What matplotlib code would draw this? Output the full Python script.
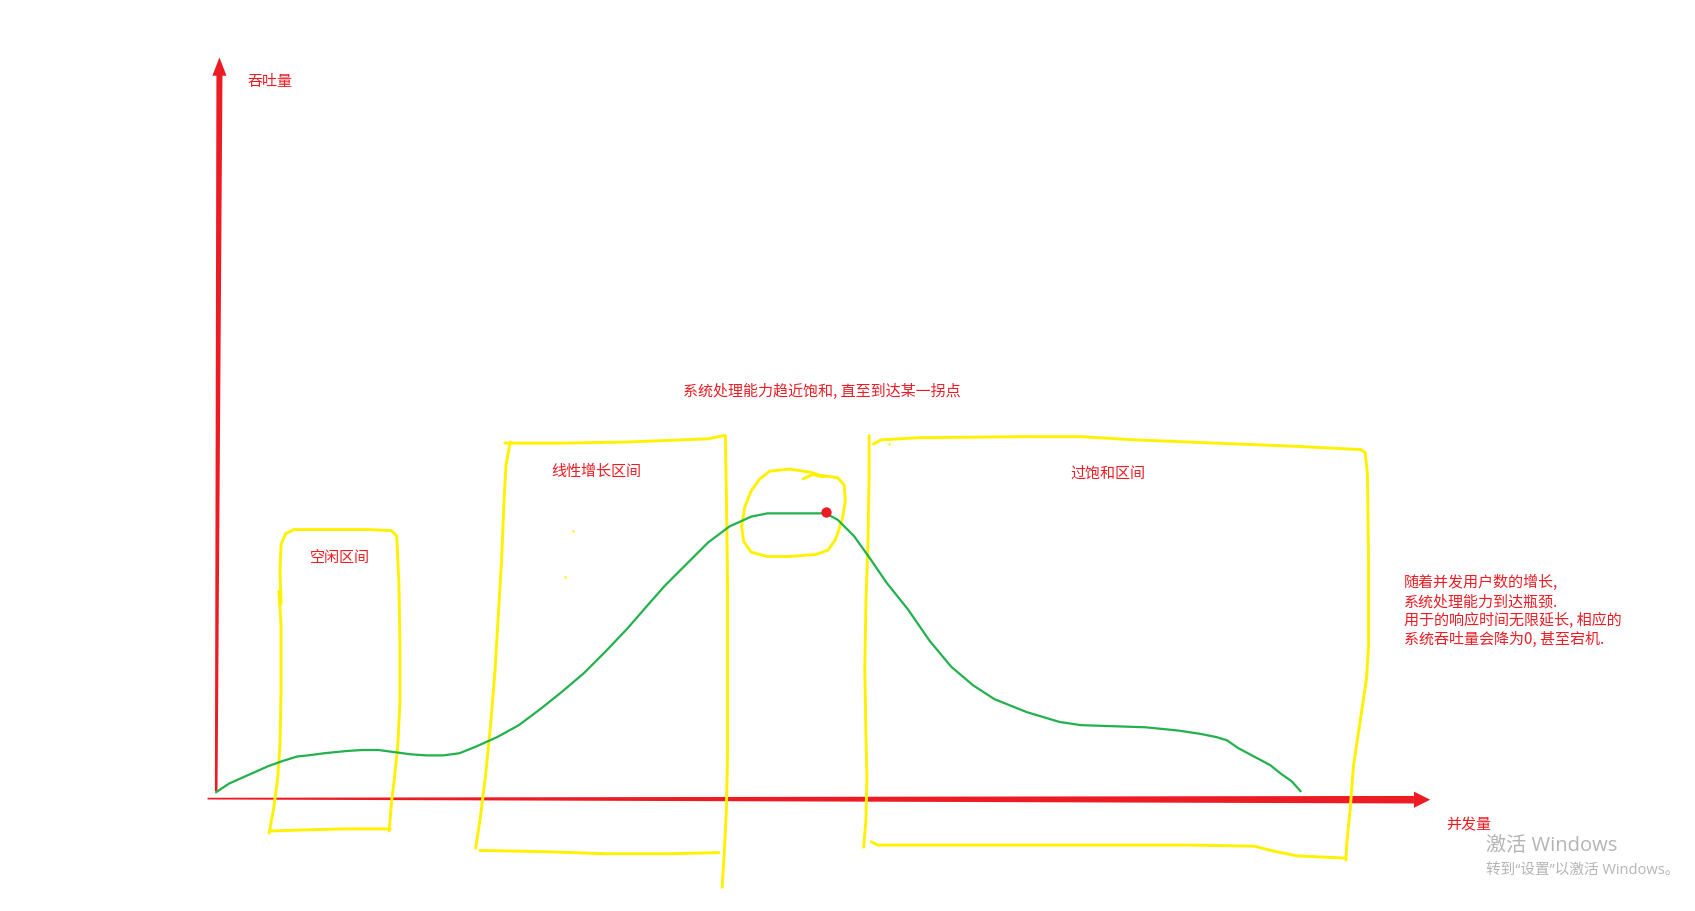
import matplotlib
matplotlib.use("Agg")
import matplotlib.pyplot as plt
import numpy as np

plt.rcParams['font.family'] = ['Noto Sans CJK SC', 'DejaVu Sans']

RED = "#ED1C24"
YEL = "#FFF200"
GRN = "#22B14C"
GRAY = "#B4B4B4"

# ---- data (sketch coordinates, reference image space 1568x844) ----
curve_x = [200, 212, 230, 248, 262, 275, 285, 300, 320, 335, 350, 365, 380, 395, 410, 425, 440,
           460, 480, 500, 520, 540, 560, 580, 600, 615, 635, 655, 675, 695, 710, 730, 750, 764,
           775, 790, 805, 820, 840, 860, 880, 900, 920, 950, 980, 1000, 1030, 1060, 1090, 1110,
           1125, 1135, 1145, 1160, 1175, 1185, 1195, 1203]
curve_y = [734, 726, 718, 710, 705, 701, 700, 698, 696, 695, 695, 697, 699, 700, 700, 698, 692,
           683, 672, 657, 641, 624, 604, 583, 560, 543, 523, 503, 488, 479, 476, 476, 476, 476,
           482, 497, 518, 540, 565, 594, 618, 635, 648, 660, 669, 672, 673, 674, 677, 680,
           683, 686, 693, 701, 709, 717, 724, 733]
peak_x, peak_y = [764], [475]

box1_a_x = [260, 259, 260, 264, 272, 300, 340, 362, 367, 369, 370, 370, 368, 365, 362, 360]
box1_a_y = [560, 530, 505, 495, 491, 491, 491, 492, 497, 540, 600, 650, 690, 720, 745, 770]
box1_b_x = [258, 260, 260, 259, 257, 253, 249]
box1_b_y = [548, 580, 640, 690, 720, 750, 772]
box1_c_x = [249, 280, 320, 361]
box1_c_y = [770, 769, 768, 768]

box2_l_x = [472, 468, 466, 464, 461, 458, 454, 449, 444, 440]
box2_l_y = [410, 432, 470, 520, 570, 620, 670, 720, 760, 786]
box2_t_x = [467, 520, 580, 630, 655, 670]
box2_t_y = [411, 411, 410, 408, 407, 404]
box2_r_x = [671, 672, 673, 673, 673, 672, 670, 668]
box2_r_y = [404, 460, 540, 620, 700, 750, 790, 822]
box2_b_x = [444, 500, 560, 620, 665]
box2_b_y = [788, 789, 791, 791, 790]

loop_x = [760, 775, 781, 782, 779, 773, 766, 755, 730, 710, 695, 688, 686, 689, 695, 703, 712, 730, 750, 762]
loop_y = [441, 443, 450, 465, 482, 500, 510, 514, 516, 516, 512, 502, 488, 470, 455, 444, 437, 435, 438, 442]
cross_x = [743, 752, 760]
cross_y = [444, 440, 442]

box3_l_x = [804, 804, 803, 801, 800, 801, 802, 801, 799]
box3_l_y = [404, 440, 500, 560, 620, 680, 720, 760, 785]
box3_t_x = [808, 815, 850, 950, 1000, 1050, 1150, 1200, 1259]
box3_t_y = [412, 408, 406, 405, 405, 408, 412, 414, 417]
box3_r_x = [1259, 1263, 1265, 1266, 1266, 1264, 1258, 1252, 1249, 1246, 1245]
box3_r_y = [417, 420, 440, 520, 600, 630, 670, 710, 750, 780, 797]
box3_b_x = [806, 812, 900, 1000, 1100, 1160, 1180, 1200, 1244]
box3_b_y = [780, 783, 783, 783, 783, 784, 789, 793, 795]
dots_x = [530, 523, 822]
dots_y = [492, 535, 412]

# ---- figure ----
fig = plt.figure(figsize=(16.95, 9.12), dpi=100)
ax = fig.add_axes([0, 0, 1, 1])
ax.set_xlim(0, 1568)
ax.set_ylim(844, 0)
ax.axis('off')

# axes arrows (tapered hand strokes)
ax.fill([198.8, 201.2, 205.8, 200.2], [733, 733, 70, 70], color=RED, lw=0)
ax.fill([196.5, 209.5, 203], [71, 71, 54], color=RED, lw=0)
ax.fill([192, 192, 1308, 1308], [739.2, 740.8, 744.5, 737.5], color=RED, lw=0)
ax.fill([1308, 1308, 1323], [733.5, 748.5, 741], color=RED, lw=0)

ylw = 2.1
for xs, ys in [(box1_a_x, box1_a_y), (box1_b_x, box1_b_y), (box1_c_x, box1_c_y),
               (box2_l_x, box2_l_y), (box2_t_x, box2_t_y), (box2_r_x, box2_r_y), (box2_b_x, box2_b_y),
               (loop_x, loop_y), (cross_x, cross_y),
               (box3_l_x, box3_l_y), (box3_t_x, box3_t_y), (box3_r_x, box3_r_y), (box3_b_x, box3_b_y)]:
    ax.plot(xs, ys, color=YEL, lw=ylw, solid_capstyle='round', solid_joinstyle='round')
ax.scatter(dots_x, dots_y, s=3, color=YEL, lw=0)

ax.plot(curve_x, curve_y, color=GRN, lw=1.6, solid_joinstyle='round')
ax.scatter(peak_x, peak_y, s=55, color=RED, lw=0, zorder=5)

fs = 10.85
ax.text(229, 75, "吞吐量", color=RED, fontsize=fs, va='center', ha='left')
ax.text(1338, 763, "并发量", color=RED, fontsize=fs, va='center', ha='left')
ax.text(287, 516, "空闲区间", color=RED, fontsize=fs, va='center', ha='left')
ax.text(510, 436, "线性增长区间", color=RED, fontsize=fs, va='center', ha='left')
ax.text(632, 362, "系统处理能力趋近饱和, 直至到达某一拐点", color=RED, fontsize=fs, va='center', ha='left')
ax.text(990, 438, "过饱和区间", color=RED, fontsize=fs, va='center', ha='left')
lines = ["随着并发用户数的增长,", "系统处理能力到达瓶颈.", "用于的响应时间无限延长, 相应的", "系统吞吐量会降为0, 甚至宕机."]
for i, s in enumerate(lines):
    ax.text(1299, 539 + i * 17.7, s, color=RED, fontsize=fs, va='center', ha='left')

wm_font = ['Open Sans', 'Noto Sans CJK SC', 'DejaVu Sans']
ax.text(1375, 783, "激活 Windows", color=GRAY, fontsize=14.5, va='center', ha='left', family=wm_font)
ax.text(1375, 805, "转到“设置”以激活 Windows。", color=GRAY, fontsize=10.5, va='center', ha='left', family=wm_font)

fig.savefig("out.png", dpi=100, facecolor='white')
